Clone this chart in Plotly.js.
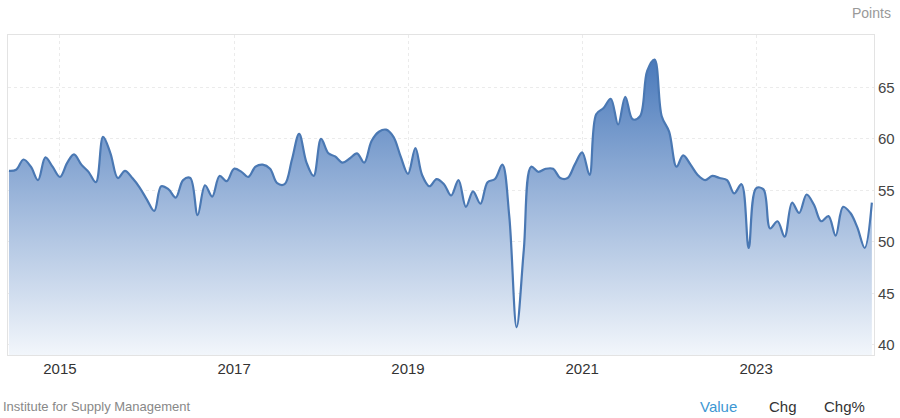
<!DOCTYPE html>
<html>
<head>
<meta charset="utf-8">
<script src="https://cdn.plot.ly/plotly-3.0.1.min.js"></script>
<style>
  html, body { margin: 0; padding: 0; background: #fff; }
  #chart { width: 900px; height: 418px; }
</style>
</head>
<body>
<div id="chart"></div>
<script>
// ISM services index, monthly, Jun 2014 .. May 2024
const firstMonth = [2014, 6];
const v2014 = [56.9, 57.0, 58.0, 57.3, 56.0, 58.2, 57.3];
const v2015 = [56.3, 57.7, 58.5, 57.5, 56.8, 55.8, 60.2, 58.6, 56.2, 56.9, 56.2, 55.3];
const v2016 = [54.1, 53.0, 55.4, 55.1, 54.3, 56.0, 56.2, 52.6, 55.5, 54.4, 56.4, 55.9];
const v2017 = [57.1, 56.8, 56.3, 57.3, 57.5, 57.1, 55.7, 55.6, 58.0, 60.5, 57.7, 56.4];
const v2018 = [60.0, 58.6, 58.3, 57.7, 58.1, 58.6, 57.7, 59.8, 60.7, 60.9, 60.2, 58.3];
const v2019 = [56.6, 59.1, 56.5, 55.4, 56.1, 55.6, 54.5, 56.0, 53.4, 54.9, 53.7, 55.8];
const v2020 = [56.1, 57.5, 52.5, 41.7, 49.2, 57.3, 56.8, 57.1, 57.1, 56.2, 56.2, 57.5];
const v2021 = [58.7, 56.5, 62.4, 63.0, 63.9, 61.4, 64.1, 61.9, 62.2, 66.6, 67.7, 62.2];
const v2022 = [60.7, 57.3, 58.4, 57.5, 56.5, 56.0, 56.4, 56.2, 56.0, 54.7, 55.6, 49.4];
const v2023 = [55.2, 55.1, 51.3, 52.0, 50.5, 53.8, 52.8, 54.6, 53.6, 52.0, 52.5, 50.6];
const v2024 = [53.4, 52.8, 51.4, 49.4, 53.8];

const yTicks = [40, 45, 50, 55, 60, 65];

const values = [].concat(v2014, v2015, v2016, v2017, v2018, v2019,
                         v2020, v2021, v2022, v2023, v2024);

// one date per value, first of each month
const dates = values.map((_, i) => {
    const m = firstMonth[1] - 1 + i;
    const y = firstMonth[0] + Math.floor(m / 12);
    const mm = String((m % 12) + 1).padStart(2, '0');
    return y + '-' + mm + '-01';
});

const trace = {
    type: 'scatter',
    mode: 'lines',
    x: dates,
    y: values,
    line: { color: '#4a78b3', width: 2.2, shape: 'spline', smoothing: 1 },
    fill: 'tozeroy',
    fillgradient: {
        type: 'vertical',
        start: 39,
        stop: 68,
        colorscale: [[0, 'rgb(242,246,251)'], [0.5, 'rgb(160,185,220)'], [1, 'rgb(72,120,186)']]
    },
    hoverinfo: 'x+y'
};

const bottomY = -0.16;

const layout = {
    width: 900,
    height: 418,
    margin: { l: 8, r: 26, t: 35, b: 63 },
    paper_bgcolor: '#fff',
    plot_bgcolor: '#fff',
    showlegend: false,
    font: { family: 'Liberation Sans, Arial, sans-serif', color: '#333' },
    xaxis: {
        type: 'date',
        range: ['2014-05-28', '2024-05-10'],
        tick0: '2015-01-01',
        dtick: 'M24',
        tickformat: '%Y',
        ticks: '',
        tickfont: { size: 15, color: '#333' },
        showgrid: true,
        gridcolor: '#ebebeb',
        griddash: 'dot',
        showline: true,
        linecolor: '#e3e3e3',
        mirror: true,
        zeroline: false,
        fixedrange: true
    },
    yaxis: {
        side: 'right',
        range: [39, 70.1],
        tickvals: yTicks,
        ticks: '',
        tickfont: { size: 15, color: '#444' },
        showgrid: true,
        gridcolor: '#ebebeb',
        griddash: 'dot',
        showline: true,
        linecolor: '#e3e3e3',
        mirror: true,
        zeroline: false,
        fixedrange: true
    },
    annotations: [
        { text: 'Points', xref: 'paper', yref: 'paper', x: 1.022, y: 1.068,
          xanchor: 'right', yanchor: 'middle', showarrow: false,
          font: { size: 14, color: '#999' } },
        { text: 'Institute for Supply Management', xref: 'paper', yref: 'paper',
          x: -0.008, y: bottomY, xanchor: 'left', yanchor: 'middle', showarrow: false,
          font: { size: 13, color: '#888' } },
        { text: 'Value', xref: 'paper', yref: 'paper', x: 0.797, y: bottomY,
          xanchor: 'left', yanchor: 'middle', showarrow: false,
          font: { size: 15, color: '#3d97d3' } },
        { text: 'Chg', xref: 'paper', yref: 'paper', x: 0.876, y: bottomY,
          xanchor: 'left', yanchor: 'middle', showarrow: false,
          font: { size: 15, color: '#333' } },
        { text: 'Chg%', xref: 'paper', yref: 'paper', x: 0.94, y: bottomY,
          xanchor: 'left', yanchor: 'middle', showarrow: false,
          font: { size: 15, color: '#333' } }
    ]
};

Plotly.newPlot('chart', [trace], layout, { displayModeBar: false, staticPlot: true });
</script>
</body>
</html>
